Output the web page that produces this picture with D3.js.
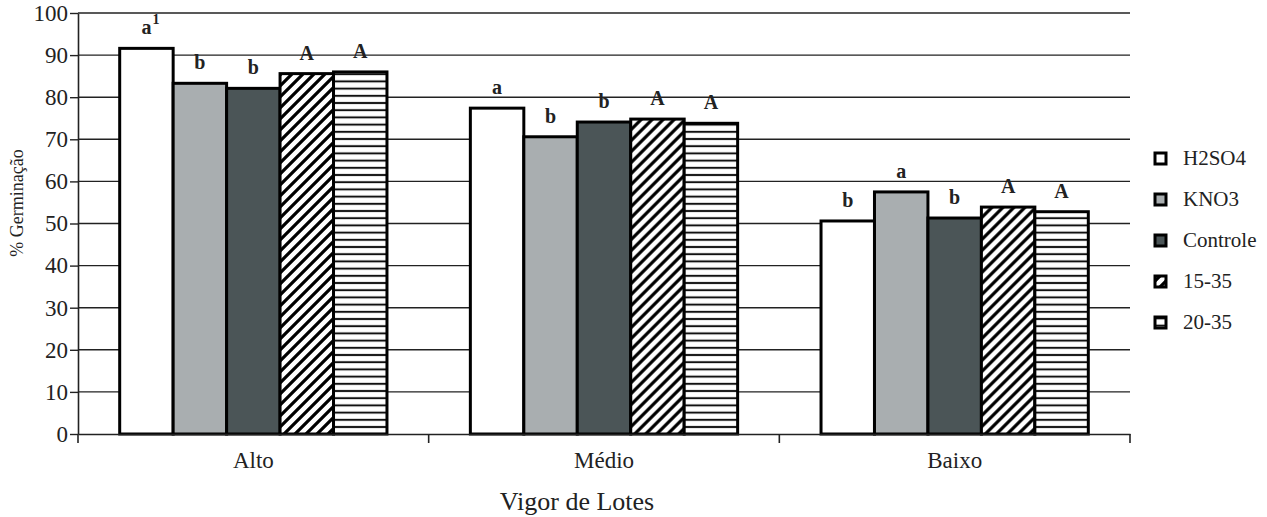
<!DOCTYPE html>
<html>
<head>
<meta charset="utf-8">
<script src="https://cdn.jsdelivr.net/npm/d3@7"></script>
</head>
<body style="margin:0; background:#fff">
<div id="chart"></div>
<script>
// Data
const lotes = ["Alto", "Médio", "Baixo"];
const tratamentos = ["H2SO4", "KNO3", "Controle", "15-35", "20-35"];
const valH2SO4 = [91.6, 77.4, 50.6];
const valKNO3 = [83.3, 70.6, 57.5];
const valControle = [82.1, 74.1, 51.3];
const val1535 = [85.6, 74.8, 53.9];
const val2035 = [86.0, 73.8, 52.8];
const letras = [
    ["a", "b", "b", "A", "A"],
    ["a", "b", "b", "A", "A"],
    ["b", "a", "b", "A", "A"]
];
const yTicks = [0, 10, 20, 30, 40, 50, 60, 70, 80, 90, 100];

const series = [valH2SO4, valKNO3, valControle, val1535, val2035];
const fills = ["#ffffff", "#a9aeb0", "#4b5557", "url(#diag)", "url(#horiz)"];
const FONT = '"Liberation Serif", "Times New Roman", serif';

const width = 1267, height = 517;
const margin = { top: 13, right: 137, bottom: 83, left: 78 };
const innerWidth = width - margin.left - margin.right;
const innerHeight = height - margin.top - margin.bottom;

const svg = d3.select("#chart")
    .append("svg")
    .attr("width", width)
    .attr("height", height);

// Patterns
const defs = svg.append("defs");
const diag = defs.append("pattern")
    .attr("id", "diag")
    .attr("patternUnits", "userSpaceOnUse")
    .attr("width", 11).attr("height", 11);
diag.append("rect").attr("width", 11).attr("height", 11).attr("fill", "#fff");
diag.append("path")
    .attr("d", "M0,11 L11,0 M-2,2 L2,-2 M9,13 L13,9")
    .attr("stroke", "#000").attr("stroke-width", 3.2);

const horiz = defs.append("pattern")
    .attr("id", "horiz")
    .attr("patternUnits", "userSpaceOnUse")
    .attr("width", 10).attr("height", 7.2);
horiz.append("rect").attr("width", 10).attr("height", 7.2).attr("fill", "#fff");
horiz.append("rect").attr("y", 2.6).attr("width", 10).attr("height", 2).attr("fill", "#111");

const g = svg.append("g")
    .attr("transform", `translate(${margin.left},${margin.top})`);

// Scales
const x0 = d3.scaleBand().domain(lotes).range([0, innerWidth]).padding(0);
const x1 = d3.scaleBand().domain(tratamentos).range([0, x0.bandwidth()])
    .paddingInner(0).paddingOuter(0.78);
const y = d3.scaleLinear().domain([0, 100]).range([innerHeight, 0]);

// Gridlines
g.selectAll(".grid")
    .data(yTicks.filter(d => d > 0))
    .join("line")
        .attr("x1", 0).attr("x2", innerWidth)
        .attr("y1", d => y(d)).attr("y2", d => y(d))
        .attr("stroke", "#222").attr("stroke-width", 1.4);

// Y axis
const yAxis = g.append("g")
    .call(d3.axisLeft(y).tickValues(yTicks).tickSize(8).tickSizeOuter(0).tickPadding(2));
yAxis.select(".domain").attr("stroke", "#222").attr("stroke-width", 1.6);
yAxis.selectAll(".tick line").attr("stroke", "#222").attr("stroke-width", 1.4);
yAxis.selectAll(".tick text").attr("font-size", 23);

// Bars
const groups = g.selectAll(".lote")
    .data(lotes)
    .join("g")
        .attr("transform", d => `translate(${x0(d)},0)`);

const barData = (lote, i) => tratamentos.map((t, j) => ({ t, v: series[j][i], letra: letras[i][j], j }));

groups.selectAll("rect")
    .data(barData)
    .join("rect")
        .attr("x", d => x1(d.t))
        .attr("y", d => y(d.v))
        .attr("width", x1.bandwidth())
        .attr("height", d => innerHeight - y(d.v))
        .attr("fill", d => fills[d.j])
        .attr("stroke", "#000")
        .attr("stroke-width", 3);

// Letters above bars
groups.selectAll(".letra")
    .data(barData)
    .join("text")
        .attr("class", "letra")
        .attr("x", d => x1(d.t) + x1.bandwidth() / 2)
        .attr("y", d => y(d.v) - 14)
        .attr("text-anchor", "middle")
        .attr("font-size", 20)
        .attr("font-weight", "bold")
        .text(d => d.letra);

// superscript "1" on the first letter
const first = barData(lotes[0], 0)[0];
g.append("text")
    .attr("x", x0(lotes[0]) + x1(first.t) + x1.bandwidth() / 2 + 6)
    .attr("y", y(first.v) - 24)
    .attr("font-size", 14)
    .attr("font-weight", "bold")
    .text("1");

// X axis
const xAxis = g.append("g")
    .attr("transform", `translate(0,${innerHeight})`)
    .call(d3.axisBottom(x0).tickSize(0).tickPadding(18));
xAxis.select(".domain").attr("stroke", "#222").attr("stroke-width", 1.6);
xAxis.selectAll(".tick text").attr("font-size", 23);

// boundary ticks between categories
g.selectAll(".sep")
    .data(lotes.concat(["end"]))
    .join("line")
        .attr("x1", (d, i) => i < lotes.length ? x0(d) : innerWidth)
        .attr("x2", (d, i) => i < lotes.length ? x0(d) : innerWidth)
        .attr("y1", innerHeight).attr("y2", innerHeight + 9)
        .attr("stroke", "#222").attr("stroke-width", 1.6);

// Axis titles
svg.append("text")
    .text("Vigor de Lotes")
    .attr("x", margin.left + innerWidth / 2 - 27)
    .attr("y", 510)
    .attr("text-anchor", "middle")
    .attr("font-size", 26);

svg.append("text")
    .text("% Germinação")
    .attr("transform", "translate(23,203) rotate(-90)")
    .attr("text-anchor", "middle")
    .attr("font-size", 18);

// Legend
const legend = svg.append("g")
    .attr("transform", "translate(1155,158)");
const item = legend.selectAll("g")
    .data(tratamentos)
    .join("g")
        .attr("transform", (d, i) => `translate(0,${i * 41})`);
item.append("rect")
    .attr("x", 0).attr("y", -5)
    .attr("width", 11).attr("height", 11)
    .attr("fill", (d, i) => fills[i])
    .attr("stroke", "#000").attr("stroke-width", 3);
item.append("text")
    .attr("x", 28).attr("y", 7)
    .attr("font-size", 21)
    .text(d => d);

// serif font on every text
svg.selectAll("text").style("font-family", FONT).attr("fill", "#222");
</script>
</body>
</html>
